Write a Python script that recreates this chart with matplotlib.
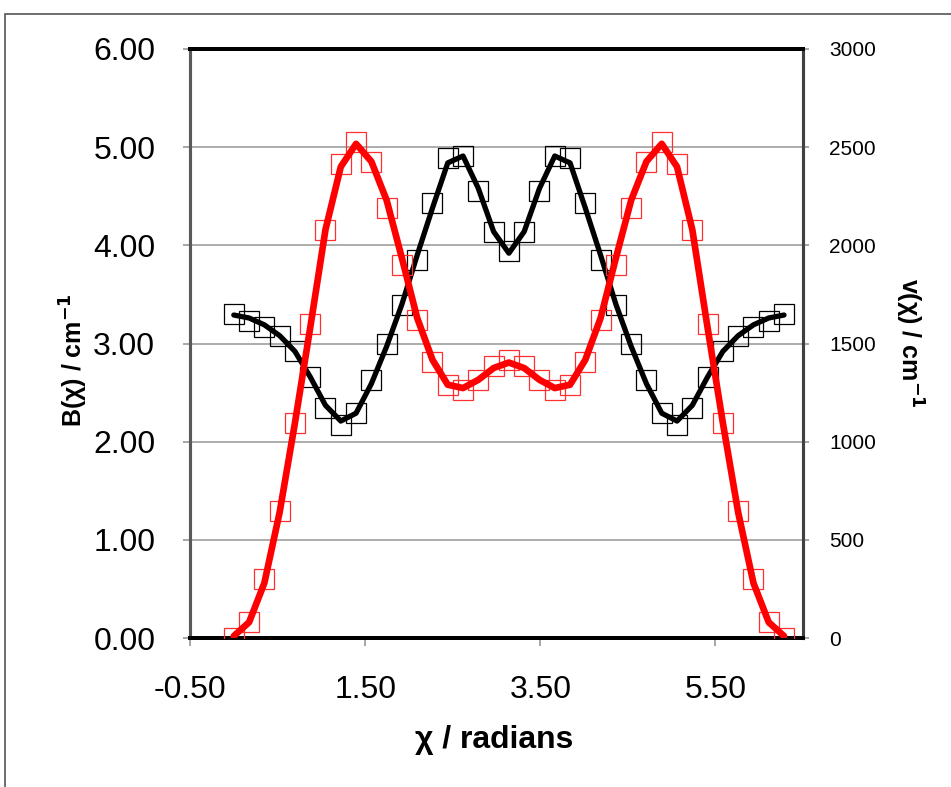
import numpy as np
import matplotlib.pyplot as plt

plt.rcParams['font.family'] = ['Liberation Sans', 'DejaVu Sans']

# torsion angle steps of 10 degrees, 0..360
angle_deg = np.arange(0, 361, 10)

# B(chi) measured points (squares) and fit (line), 0..180 deg, mirrored
b_pts_half = [3.30, 3.23, 3.17, 3.08, 2.92, 2.66, 2.34, 2.17, 2.29, 2.63,
              2.99, 3.39, 3.85, 4.43, 4.89, 4.91, 4.55, 4.14, 3.94]
b_fit_half = [3.29, 3.26, 3.19, 3.08, 2.92, 2.66, 2.37, 2.21, 2.29, 2.59,
              2.97, 3.40, 3.90, 4.38, 4.84, 4.91, 4.58, 4.14, 3.92]

# V(chi) measured points and fit, cm-1
v_pts_half = [0, 80, 300, 645, 1095, 1600, 2080, 2415, 2525, 2425,
              2190, 1900, 1618, 1406, 1287, 1264, 1313, 1383, 1417]
v_fit_half = [10, 80, 280, 640, 1095, 1580, 2080, 2400, 2517, 2427,
              2230, 1935, 1630, 1417, 1290, 1273, 1315, 1375, 1403]


def mirror(half):
    return list(half) + list(half[-2::-1])


chi = np.radians(angle_deg)
b_pts = mirror(b_pts_half)
b_fit = mirror(b_fit_half)
v_pts = mirror(v_pts_half)
v_fit = mirror(v_fit_half)

fig = plt.figure(figsize=(9.51, 7.87), dpi=100)
ax = fig.add_axes([190 / 951, 1 - 638 / 787, 613 / 951, 589 / 787])
ax2 = ax.twinx()

# outer chart border
fig.add_artist(plt.Rectangle((5 / 951, -0.1), 1.2, 1 - 14 / 787 + 0.1,
                             transform=fig.transFigure, fill=False,
                             edgecolor='#555555', linewidth=1.2))

ax.plot(chi, b_pts, linestyle='none', marker='s', markersize=15,
        markerfacecolor='none', markeredgecolor='black', markeredgewidth=0.9, zorder=3)
ax.plot(chi, b_fit, color='black', linewidth=3.8, solid_capstyle='round', zorder=4)

ax2.plot(chi, v_pts, linestyle='none', marker='s', markersize=15,
         markerfacecolor='none', markeredgecolor='#ff3030', markeredgewidth=0.9, zorder=3)
ax2.plot(chi, v_fit, color='#ff0000', linewidth=4.8, solid_capstyle='round', zorder=4)

ax.set_xlim(-0.5, 6.5)
ax.set_ylim(0, 6)
ax2.set_ylim(0, 3000)

ax.set_xticks([-0.5, 1.5, 3.5, 5.5])
ax.set_xticklabels(['-0.50', '1.50', '3.50', '5.50'])
ax.set_yticks(np.arange(0, 7, 1))
ax.set_yticklabels(['%.2f' % v for v in range(7)])
ax2.set_yticks(np.arange(0, 3001, 500))

ax.grid(axis='y', color='#a6a6a6', linewidth=1.3)
ax.set_axisbelow(True)

ax.tick_params(axis='x', labelsize=23, length=6, width=1.3, color='#a0a0a0', pad=21)
ax.tick_params(axis='y', labelsize=23, length=5, width=1.3, color='#a0a0a0', pad=20)
ax2.tick_params(axis='y', labelsize=15, length=4, width=1.3, color='#a0a0a0', pad=15)

for a in (ax, ax2):
    a.spines['top'].set_color('black')
    a.spines['top'].set_linewidth(2.8)
    a.spines['bottom'].set_color('black')
    a.spines['bottom'].set_linewidth(2.8)
    a.spines['left'].set_color('#595959')
    a.spines['left'].set_linewidth(2.2)
    a.spines['right'].set_color('#404040')
    a.spines['right'].set_linewidth(2.2)

fig.text(494 / 951, 1 - 740 / 787, 'χ / radians', ha='center', va='center',
         fontsize=23, fontweight='bold')
fig.text(74 / 951, 1 - 360 / 787, 'B(χ) / cm$^{\\mathbf{-1}}$', ha='center', va='center',
         rotation=90, fontsize=18, fontweight='bold')
fig.text(909 / 951, 1 - 343 / 787, 'v(χ) / cm$^{\\mathbf{-1}}$', ha='center', va='center',
         rotation=-90, fontsize=18, fontweight='bold')

fig.savefig('out.png', dpi=100)
